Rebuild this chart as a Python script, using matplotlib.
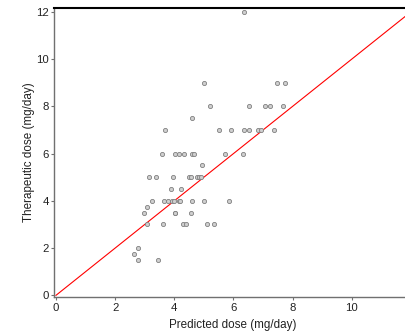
import matplotlib
matplotlib.use("Agg")
import matplotlib.pyplot as plt
import numpy as np

plt.rcParams['font.family'] = ['Liberation Sans', 'DejaVu Sans']

# Predicted dose (x) and therapeutic dose (y), mg/day
predicted = [
    6.37,
    4.99, 7.48, 7.75,
    5.20, 6.51, 7.05, 7.24, 7.69,
    4.60,
    3.70, 5.52, 5.93, 6.35, 6.53, 6.83, 6.93, 7.37,
    3.60, 4.02, 4.15, 4.34, 4.61, 4.65, 5.71, 6.33,
    4.94,
    3.16, 3.38, 3.94, 4.49, 4.57, 4.76, 4.83, 4.91,
    3.89, 4.22,
    3.25, 3.65, 3.80, 3.93, 4.00, 4.16, 4.20, 4.60, 5.02, 5.86,
    3.07,
    2.98, 4.02, 4.04, 4.56,
    3.07, 3.62, 4.28, 4.38, 5.10, 5.35,
    2.79,
    2.64,
    2.76, 3.45,
]
therapeutic = [
    12.0,
    9.0, 9.0, 9.0,
    8.0, 8.0, 8.0, 8.0, 8.0,
    7.5,
    7.0, 7.0, 7.0, 7.0, 7.0, 7.0, 7.0, 7.0,
    6.0, 6.0, 6.0, 6.0, 6.0, 6.0, 6.0, 6.0,
    5.5,
    5.0, 5.0, 5.0, 5.0, 5.0, 5.0, 5.0, 5.0,
    4.5, 4.5,
    4.0, 4.0, 4.0, 4.0, 4.0, 4.0, 4.0, 4.0, 4.0, 4.0,
    3.75,
    3.5, 3.5, 3.5, 3.5,
    3.0, 3.0, 3.0, 3.0, 3.0, 3.0,
    2.0,
    1.75,
    1.5, 1.5,
]
identity = [0, 12.2]
ticks = [0, 2, 4, 6, 8, 10, 12]

fig = plt.figure(figsize=(4.06, 3.34), dpi=100)
ax = fig.add_axes([0.1342, 0.1108, 0.8816, 0.8643])

ax.plot(identity, identity, color='#ff0000', lw=0.8, zorder=2)
ax.scatter(predicted, therapeutic, s=9, facecolor='#cfcfcf', edgecolor='#808080',
           linewidths=0.6, zorder=3)

ax.set_xlim(-0.05, 12.05)
ax.set_ylim(-0.07, 12.15)
ax.set_xticks(ticks)
ax.set_yticks(ticks)
ax.set_xticklabels([str(t) for t in ticks])
ax.set_yticklabels([str(t) for t in ticks])

for side in ['left', 'bottom']:
    ax.spines[side].set_color('#707070')
    ax.spines[side].set_linewidth(1.0)
ax.spines['top'].set_color('black')
ax.spines['top'].set_linewidth(1.5)
ax.spines['right'].set_color('black')

ax.tick_params(axis='both', direction='out', length=2.5, width=0.8, color='#707070',
               labelsize=8.2, labelcolor='#222222', pad=1.5)

ax.set_xlabel('Predicted dose (mg/day)', fontsize=8.4, color='#222222')
ax.set_ylabel('Therapeutic dose (mg/day)', fontsize=8.4, color='#222222')
ax.xaxis.set_label_coords(0.5 - (0.5 * 0.8816 * 406 - (233 - 54.5)) / (0.8816 * 406), -0.076)
ax.yaxis.set_label_coords(-0.0545, 0.5 - ((152.5 - 8.3) - 0.5 * 288.7) / 288.7)

fig.savefig('out.png', dpi=100)
